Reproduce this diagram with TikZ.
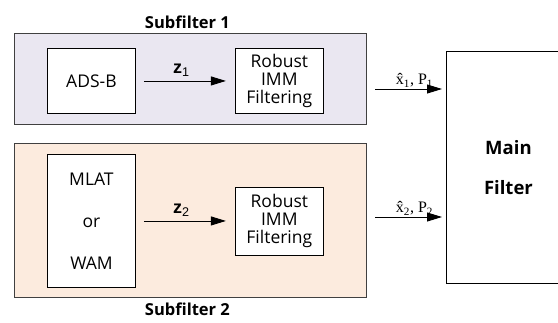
\documentclass[tikz,border=0pt]{standalone}
\usepackage{fontspec}
\setmainfont{Open Sans}
\newfontfamily\estfont{Liberation Serif}
\newfontfamily\measfont{Liberation Sans}
\usetikzlibrary{arrows.meta,positioning}
\definecolor{lavender1}{RGB}{234,231,241}
\definecolor{peach2}{RGB}{252,235,222}

\begin{document}
\begin{tikzpicture}[x=1pt,y=1pt]
\tikzset{
subbox/.style={rectangle,draw=black!75,line width=0.9pt,anchor=north west},
block/.style={rectangle,draw=black,fill=white,line width=0.9pt,text centered,align=center,
font=\fontsize{17.5}{18}\selectfont,minimum width=88,inner sep=1pt,anchor=north west},
mainblock/.style={rectangle,draw=black,fill=white,line width=0.9pt,align=center,
font=\fontsize{18.5}{40}\selectfont\bfseries,minimum width=150,minimum height=232,anchor=north west},
myarrow/.style={-{Triangle[length=15pt,width=9pt]},line width=0.9pt},
mylabel/.style={font=\fontsize{16.5}{20}\selectfont\bfseries},
zlabel/.style={font=\measfont\fontsize{18}{20}\selectfont,inner sep=1pt},
xlabel/.style={font=\estfont\fontsize{16}{18}\selectfont,inner sep=1pt},
}
\useasboundingbox (0,0) rectangle (558,-322);

% the two subfilters
\node [subbox, fill=lavender1, minimum width=352, minimum height=91] (sub1) at (14,-33) {};
\node [subbox, fill=peach2, minimum width=352, minimum height=154] (sub2) at (14,-143) {};
\node [mylabel, above=1pt of sub1, xshift=-3pt] (sub1lab) {Subfilter 1};
\node [mylabel, below=1pt of sub2, xshift=-3pt] (sub2lab) {Subfilter 2};

\node [block, minimum height=65] (adsb) at (47,-48) {ADS-B};
\node [block, minimum height=65, anchor=center, right=99 of adsb] (imm1) {Robust\\IMM\\Filtering};
\node [block, minimum height=133, font=\fontsize{17.5}{42}\selectfont] (mlat) at (47,-154) {MLAT\\or\\WAM};
\node [block, minimum height=68, anchor=center, right=99 of mlat] (imm2) {Robust\\IMM\\Filtering};

\node [mainblock] (main) at (446,-51) {\hspace*{-26pt}Main\\\hspace*{-26pt}Filter};

\draw[myarrow, shorten <=8pt, shorten >=9pt] (adsb) -- node[zlabel, above=3pt, xshift=-4pt] {\textbf{z}\textsubscript{1}} (imm1);
\draw[myarrow, shorten <=8pt, shorten >=9pt] (mlat) -- node[zlabel, above=3pt, xshift=-4pt] {\textbf{z}\textsubscript{2}} (imm2);

% estimates into the main filter
\coordinate (est1) at (375,-89);
\coordinate (est2) at (375,-217);
\draw[myarrow, shorten >=4pt] (est1) -- node[xlabel, above=0pt, xshift=4pt] {\^x\textsubscript{1}, P\textsubscript{1}} (est1 -| main.west);
\draw[myarrow, shorten >=4pt] (est2) -- node[xlabel, above=0pt, xshift=4pt] {\^x\textsubscript{2}, P\textsubscript{2}} (est2 -| main.west);
\end{tikzpicture}
\end{document}
